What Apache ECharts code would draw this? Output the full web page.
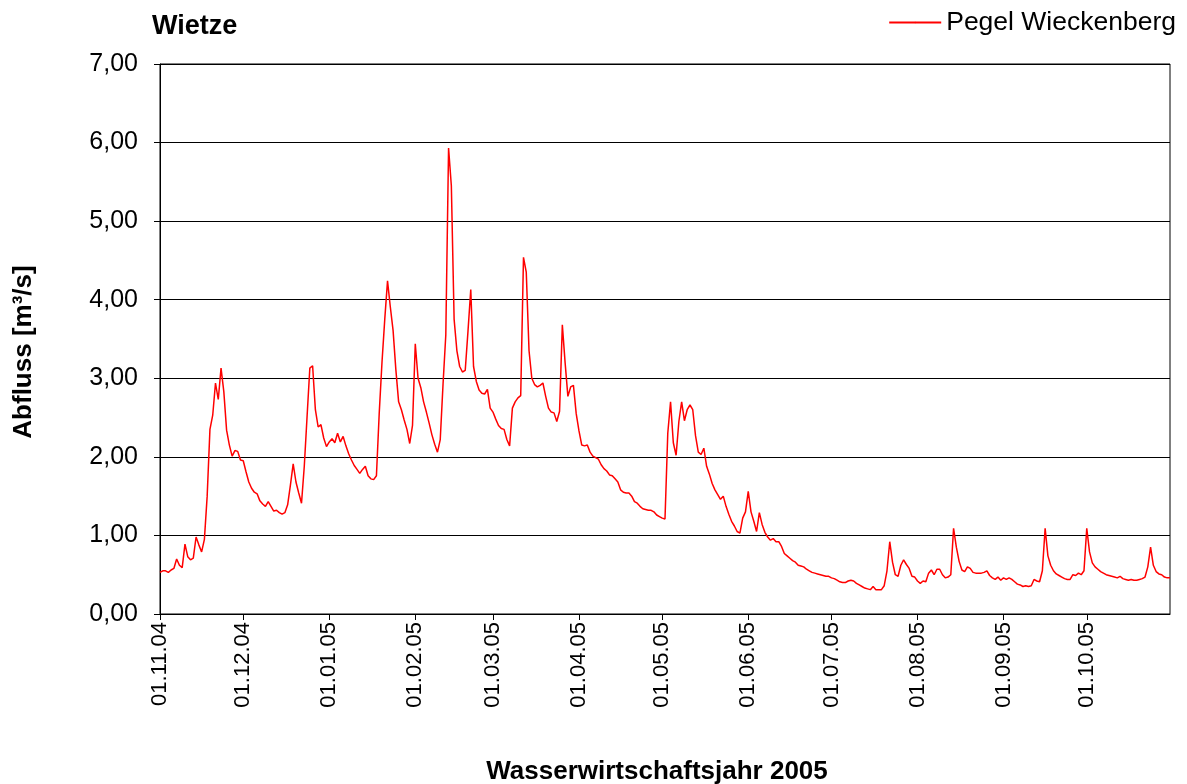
<!DOCTYPE html>
<html>
<head>
<meta charset="utf-8">
<title>Wietze</title>
<script src="https://cdn.jsdelivr.net/npm/echarts@6/dist/echarts.min.js"></script>
<style>
  html, body { margin: 0; padding: 0; background: #fff; }
  #chart { width: 1187px; height: 784px; }
</style>
</head>
<body>
<div id="chart"></div>
<script>
// Abfluss Pegel Wieckenberg, Tageswerte je Monat [m³/s]
var nov04 = [0.53, 0.55, 0.55, 0.53, 0.56, 0.58, 0.70, 0.62, 0.59, 0.89, 0.73, 0.69, 0.71, 0.98, 0.88,
             0.79, 0.95, 1.50, 2.35, 2.53, 2.94, 2.73, 3.13, 2.83, 2.34, 2.15, 2.01, 2.08, 2.07, 1.96];
var dec04 = [1.95, 1.81, 1.68, 1.60, 1.55, 1.53, 1.44, 1.40, 1.37, 1.43, 1.37, 1.31, 1.32, 1.29, 1.27,
             1.29, 1.39, 1.64, 1.91, 1.68, 1.54, 1.41, 1.88, 2.51, 3.13, 3.16, 2.60, 2.38, 2.41, 2.24, 2.13];
var jan05 = [2.19, 2.23, 2.18, 2.30, 2.19, 2.26, 2.14, 2.04, 1.96, 1.89, 1.84, 1.79, 1.84, 1.88, 1.76,
             1.72, 1.71, 1.76, 2.55, 3.20, 3.75, 4.24, 3.91, 3.61, 3.11, 2.70, 2.60, 2.47, 2.35, 2.17, 2.40];
var feb05 = [3.44, 3.00, 2.88, 2.70, 2.57, 2.43, 2.28, 2.16, 2.06, 2.22, 2.92, 3.55, 5.93, 5.45, 3.75,
             3.35, 3.15, 3.08, 3.10, 3.60, 4.13, 3.15, 2.96, 2.85, 2.81, 2.80, 2.86, 2.62];
var mar05 = [2.57, 2.48, 2.40, 2.36, 2.35, 2.22, 2.14, 2.62, 2.70, 2.75, 2.78, 4.54, 4.35, 3.35, 3.00,
             2.92, 2.89, 2.91, 2.94, 2.77, 2.62, 2.57, 2.56, 2.45, 2.58, 3.68, 3.20, 2.77, 2.89, 2.91, 2.55];
var apr05 = [2.33, 2.15, 2.14, 2.15, 2.06, 2.01, 1.99, 1.97, 1.90, 1.85, 1.82, 1.77, 1.76, 1.72, 1.68,
             1.58, 1.55, 1.54, 1.54, 1.50, 1.43, 1.41, 1.37, 1.34, 1.33, 1.32, 1.32, 1.30, 1.26, 1.24];
var may05 = [1.22, 1.21, 2.30, 2.70, 2.18, 2.02, 2.45, 2.70, 2.46, 2.60, 2.66, 2.60, 2.27, 2.06, 2.03,
             2.11, 1.88, 1.78, 1.66, 1.58, 1.52, 1.46, 1.50, 1.37, 1.27, 1.18, 1.12, 1.05, 1.03, 1.22, 1.30];
var jun05 = [1.56, 1.30, 1.18, 1.05, 1.29, 1.14, 1.04, 0.98, 0.94, 0.96, 0.92, 0.92, 0.86, 0.77, 0.74,
             0.71, 0.68, 0.66, 0.62, 0.61, 0.60, 0.57, 0.55, 0.53, 0.52, 0.51, 0.50, 0.49, 0.48, 0.48];
var jul05 = [0.46, 0.45, 0.43, 0.41, 0.40, 0.40, 0.42, 0.43, 0.42, 0.39, 0.37, 0.35, 0.33, 0.32, 0.31,
             0.35, 0.31, 0.31, 0.31, 0.36, 0.55, 0.92, 0.66, 0.50, 0.48, 0.62, 0.69, 0.63, 0.58, 0.48, 0.47];
var aug05 = [0.42, 0.39, 0.42, 0.41, 0.52, 0.56, 0.50, 0.57, 0.57, 0.50, 0.46, 0.47, 0.50, 1.09, 0.85,
             0.67, 0.56, 0.54, 0.60, 0.58, 0.53, 0.52, 0.52, 0.52, 0.53, 0.55, 0.49, 0.46, 0.44, 0.47, 0.43];
var sep05 = [0.46, 0.44, 0.46, 0.44, 0.41, 0.38, 0.37, 0.35, 0.36, 0.35, 0.36, 0.44, 0.42, 0.41, 0.55,
             1.09, 0.74, 0.62, 0.55, 0.51, 0.49, 0.47, 0.45, 0.44, 0.44, 0.50, 0.49, 0.52, 0.50, 0.55];
var oct05 = [1.09, 0.79, 0.65, 0.60, 0.57, 0.54, 0.52, 0.50, 0.49, 0.48, 0.47, 0.46, 0.48, 0.45, 0.44,
             0.43, 0.44, 0.43, 0.43, 0.44, 0.45, 0.47, 0.60, 0.85, 0.62, 0.54, 0.51, 0.50, 0.47, 0.46, 0.46];

// Beschriftung der x-Achse (Monatsanfänge)
var monthTicks = ['01.11.04', '01.12.04', '01.01.05', '01.02.05', '01.03.05', '01.04.05',
                  '01.05.05', '01.06.05', '01.07.05', '01.08.05', '01.09.05', '01.10.05'];

var flow = [].concat(nov04, dec04, jan05, feb05, mar05, apr05, may05, jun05, jul05, aug05, sep05, oct05);

// Datumskategorien ab 01.11.2004
function pad(n) { return n < 10 ? '0' + n : '' + n; }
var dates = [];
for (var i = 0; i < flow.length; i++) {
  var d = new Date(Date.UTC(2004, 10, 1 + i));
  dates.push(pad(d.getUTCDate()) + '.' + pad(d.getUTCMonth() + 1) + '.' + pad(d.getUTCFullYear() % 100));
}

function isTick(idx, value) {
  return monthTicks.indexOf(value) >= 0;
}

var font = 'Liberation Sans, Arial, sans-serif';

var chart = echarts.init(document.getElementById('chart'));
chart.setOption({
  animation: false,
  textStyle: { fontFamily: font },
  title: {
    text: 'Wietze',
    left: 147,
    top: 8,
    textStyle: { fontSize: 27, fontWeight: 'bold', color: '#000', fontFamily: font }
  },
  legend: {
    right: 6,
    top: 4,
    itemWidth: 52,
    itemHeight: 2,
    data: ['Pegel Wieckenberg'],
    textStyle: { fontSize: 26.5, color: '#000', fontFamily: font }
  },
  grid: {
    left: 160,
    right: 17,
    top: 64,
    bottom: 170,
    outerBoundsMode: 'none',
    containLabel: false,
    show: true,
    borderColor: '#000',
    borderWidth: 1
  },
  xAxis: {
    type: 'category',
    data: dates,
    boundaryGap: false,
    name: 'Wasserwirtschaftsjahr 2005',
    nameLocation: 'middle',
    nameGap: 145,
    nameTextStyle: { fontSize: 26, fontWeight: 'bold', color: '#000', fontFamily: font, padding: [0, 16, 0, 0] },
    axisLine: { lineStyle: { color: '#000', width: 1 } },
    axisTick: { interval: isTick, length: 6, lineStyle: { color: '#000' } },
    axisLabel: {
      interval: isTick,
      rotate: 90,
      fontSize: 22,
      color: '#000',
      margin: 8,
      hideOverlap: false,
      fontFamily: font
    },
    splitLine: { show: false }
  },
  yAxis: {
    type: 'value',
    min: 0,
    max: 7,
    interval: 1,
    name: 'Abfluss [m³/s]',
    nameLocation: 'middle',
    nameRotate: 90,
    nameGap: 123,
    nameTextStyle: { fontSize: 26, fontWeight: 'bold', color: '#000', fontFamily: font, padding: [0, 26, 0, 0] },
    axisLine: { show: true, lineStyle: { color: '#000', width: 1 } },
    axisTick: { show: true, length: 6, lineStyle: { color: '#000' } },
    axisLabel: {
      fontSize: 25,
      color: '#000',
      margin: 22,
      fontFamily: font,
      formatter: function (v) { return v.toFixed(2).replace('.', ','); }
    },
    splitLine: { show: true, lineStyle: { color: '#000', width: 1 } }
  },
  series: [{
    name: 'Pegel Wieckenberg',
    type: 'line',
    data: flow,
    symbol: 'none',
    lineStyle: { color: '#ff0000', width: 1.5 },
    itemStyle: { color: '#ff0000' }
  }]
});
</script>
</body>
</html>
